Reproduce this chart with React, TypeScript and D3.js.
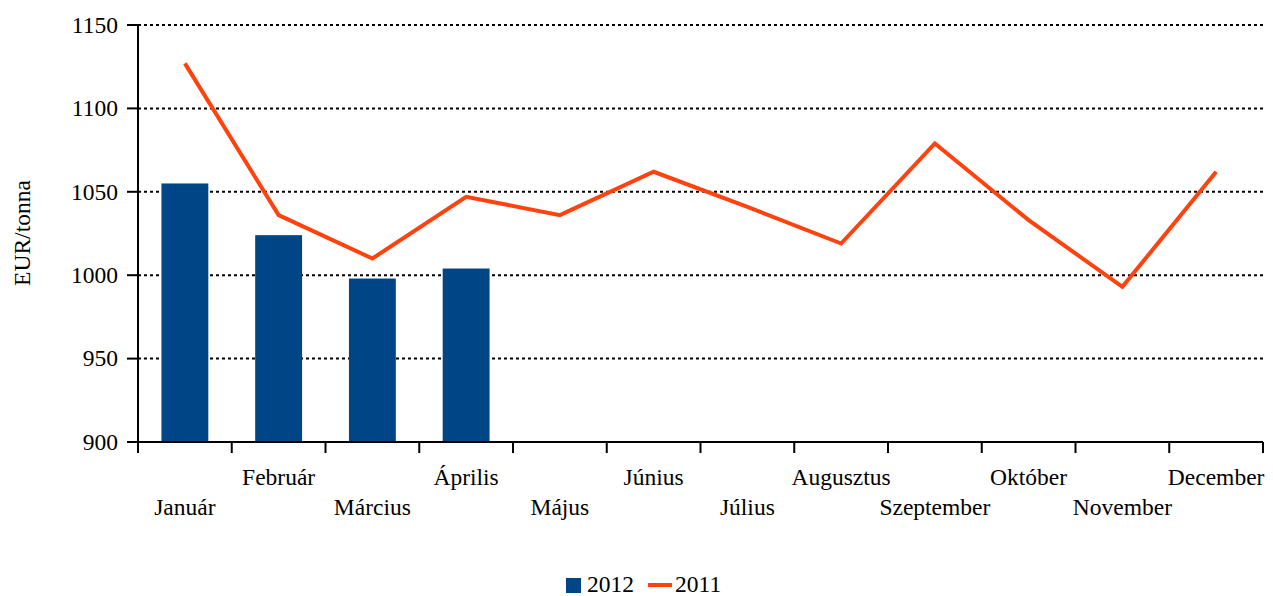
import { useRef, useEffect } from 'react';
import * as d3 from 'd3';

const months = [
  'Január', 'Február', 'Március', 'Április', 'Május', 'Június',
  'Július', 'Augusztus', 'Szeptember', 'Október', 'November', 'December',
];
const values2012 = [1055, 1024, 998, 1004];
const values2011 = [1127, 1036, 1010, 1047, 1036, 1062, 1041, 1019, 1079, 1033, 993, 1062];
const yTicks = [900, 950, 1000, 1050, 1100, 1150];

const BAR = '#004586';
const LINE = '#ff420e';
const FONT = '"Liberation Serif", "Times New Roman", serif';
const FS = '23.5px';

const App = () => {
  const svgRef = useRef<SVGSVGElement>(null);

  useEffect(() => {
    if (!svgRef.current) return;
    const width = 1273;
    const height = 596;
    const left = 138;
    const right = 1263;
    const top = 25;
    const bottom = 442;

    const svg = d3.select(svgRef.current).attr('width', width).attr('height', height);
    svg.selectAll('*').remove();

    const x = d3.scaleBand().domain(months).range([left, right]).paddingInner(0).paddingOuter(0);
    const y = d3.scaleLinear().domain([900, 1150]).range([bottom, top]);

    // gridlines
    svg
      .append('g')
      .selectAll('line')
      .data(yTicks)
      .enter()
      .append('line')
      .attr('x1', left)
      .attr('x2', right)
      .attr('y1', (d) => y(d))
      .attr('y2', (d) => y(d))
      .attr('stroke', '#000')
      .attr('stroke-width', 2)
      .attr('stroke-dasharray', '3,3');

    // bars
    const bw = x.bandwidth() / 2;
    svg
      .append('g')
      .selectAll('rect')
      .data(values2012)
      .enter()
      .append('rect')
      .attr('x', (d, i) => (x(months[i]) as number) + x.bandwidth() / 2 - bw / 2)
      .attr('y', (d) => y(d))
      .attr('width', bw)
      .attr('height', (d) => y(900) - y(d))
      .attr('fill', BAR);

    // line
    const line = d3
      .line<number>()
      .x((d, i) => (x(months[i]) as number) + x.bandwidth() / 2)
      .y((d) => y(d));
    svg
      .append('path')
      .datum(values2011)
      .attr('d', line)
      .attr('fill', 'none')
      .attr('stroke', LINE)
      .attr('stroke-width', 4);

    // y axis
    svg
      .append('line')
      .attr('x1', left)
      .attr('x2', left)
      .attr('y1', top)
      .attr('y2', bottom)
      .attr('stroke', '#000')
      .attr('stroke-width', 2);
    const yt = svg.append('g');
    yt.selectAll('line')
      .data(yTicks)
      .enter()
      .append('line')
      .attr('x1', left - 11)
      .attr('x2', left)
      .attr('y1', (d) => y(d))
      .attr('y2', (d) => y(d))
      .attr('stroke', '#000')
      .attr('stroke-width', 2);
    yt.selectAll('text')
      .data(yTicks)
      .enter()
      .append('text')
      .attr('x', left - 20)
      .attr('y', (d) => y(d))
      .attr('dy', '0.33em')
      .attr('text-anchor', 'end')
      .style('font-family', FONT)
      .style('font-size', FS)
      .text((d) => d);

    // x axis
    svg
      .append('line')
      .attr('x1', left)
      .attr('x2', right)
      .attr('y1', bottom)
      .attr('y2', bottom)
      .attr('stroke', '#000')
      .attr('stroke-width', 2);
    const edges = months.map((m) => x(m) as number).concat([right]);
    svg
      .append('g')
      .selectAll('line')
      .data(edges)
      .enter()
      .append('line')
      .attr('x1', (d) => d)
      .attr('x2', (d) => d)
      .attr('y1', bottom)
      .attr('y2', bottom + 11)
      .attr('stroke', '#000')
      .attr('stroke-width', 2);
    svg
      .append('g')
      .selectAll('text')
      .data(months)
      .enter()
      .append('text')
      .attr('x', (d) => (x(d) as number) + x.bandwidth() / 2)
      .attr('y', (d, i) => (i % 2 === 0 ? 507 : 477))
      .attr('dy', '0.35em')
      .attr('text-anchor', 'middle')
      .style('font-family', FONT)
      .style('font-size', FS)
      .text((d) => d);

    // y label
    svg
      .append('text')
      .attr('transform', `translate(22, 233) rotate(-90)`)
      .attr('dy', '0.35em')
      .attr('text-anchor', 'middle')
      .style('font-family', FONT)
      .style('font-size', FS)
      .text('EUR/tonna');

    // legend
    const lg = svg.append('g');
    lg.append('rect').attr('x', 566).attr('y', 578).attr('width', 15).attr('height', 15).attr('fill', BAR);
    lg.append('text')
      .attr('x', 587)
      .attr('y', 584)
      .attr('dy', '0.35em')
      .style('font-family', FONT)
      .style('font-size', FS)
      .text('2012');
    lg.append('line')
      .attr('x1', 648)
      .attr('x2', 672)
      .attr('y1', 585)
      .attr('y2', 585)
      .attr('stroke', LINE)
      .attr('stroke-width', 4);
    lg.append('text')
      .attr('x', 675)
      .attr('y', 584)
      .attr('dy', '0.35em')
      .style('font-family', FONT)
      .style('font-size', FS)
      .text('2011');
  }, []);

  return (
    <div style={{ position: 'absolute', left: 0, top: 0 }}>
      <svg ref={svgRef} style={{ display: 'block' }}></svg>
    </div>
  );
};

export default App;
